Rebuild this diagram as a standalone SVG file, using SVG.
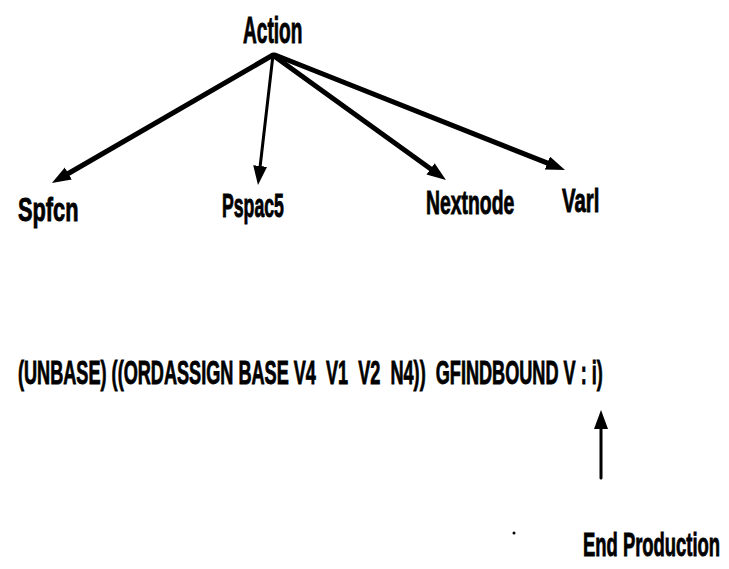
<svg xmlns="http://www.w3.org/2000/svg" width="729" height="569" viewBox="0 0 729 569">
  <style>
    .lbl { font-family: "Liberation Sans", Arial, sans-serif; font-weight: bold; font-size: 34px; fill: #000; stroke: #000; stroke-width: 0.9; }
    .big { font-size: 36px; }
    .edge { stroke: #000; fill: none; stroke-linecap: round; }
    .thick { stroke-width: 5; }
    .thin { stroke-width: 3; }
  </style>
  <defs>
    <marker id="head" markerUnits="userSpaceOnUse" markerWidth="22" markerHeight="16" refX="5" refY="7" orient="auto">
      <path d="M0,0 L19,7 L0,14 z" fill="#000"/>
    </marker>
  </defs>
  <rect width="729" height="569" fill="#fff"/>

  <!-- arrows from the Action node and the end-production pointer -->
  <g id="connectors">
    <line class="edge thick" x1="273" y1="55" x2="64" y2="176" marker-end="url(#head)"/>
    <line class="edge thin" x1="273" y1="55" x2="259.6" y2="171" marker-end="url(#head)"/>
    <line class="edge thick" x1="274" y1="56" x2="434.6" y2="171.8" marker-end="url(#head)"/>
    <line class="edge thick" x1="275" y1="55" x2="552" y2="164.9" marker-end="url(#head)"/>
    <line class="edge thin" x1="601" y1="478" x2="601" y2="424" marker-end="url(#head)"/>
  </g>

  <!-- condensed labels: bold sans squeezed horizontally -->
  <g id="action"><text class="lbl big" transform="translate(243,43) scale(0.53,1)">Action</text></g>
  <g id="spfcn"><text class="lbl" transform="translate(18,221) scale(0.64,1)">Spfcn</text></g>
  <g id="pspac5"><text class="lbl" transform="translate(222,217) scale(0.52,1)">Pspac5</text></g>
  <g id="nextnode"><text class="lbl" transform="translate(426,214) scale(0.57,1)">Nextnode</text></g>
  <g id="varl"><text class="lbl" transform="translate(562,212) scale(0.6,1)">Varl</text></g>

  <g id="production">
    <text class="lbl" transform="translate(18,384) scale(0.533,1)" xml:space="preserve">(UNBASE) ((ORDASSIGN BASE V4  V1  V2  N4))  GFINDBOUND V : i)</text>
  </g>
  <g id="end-production"><text class="lbl" transform="translate(583,556) scale(0.542,1)">End Production</text></g>

  <circle cx="514" cy="533" r="1.5" fill="#000"/>
</svg>
